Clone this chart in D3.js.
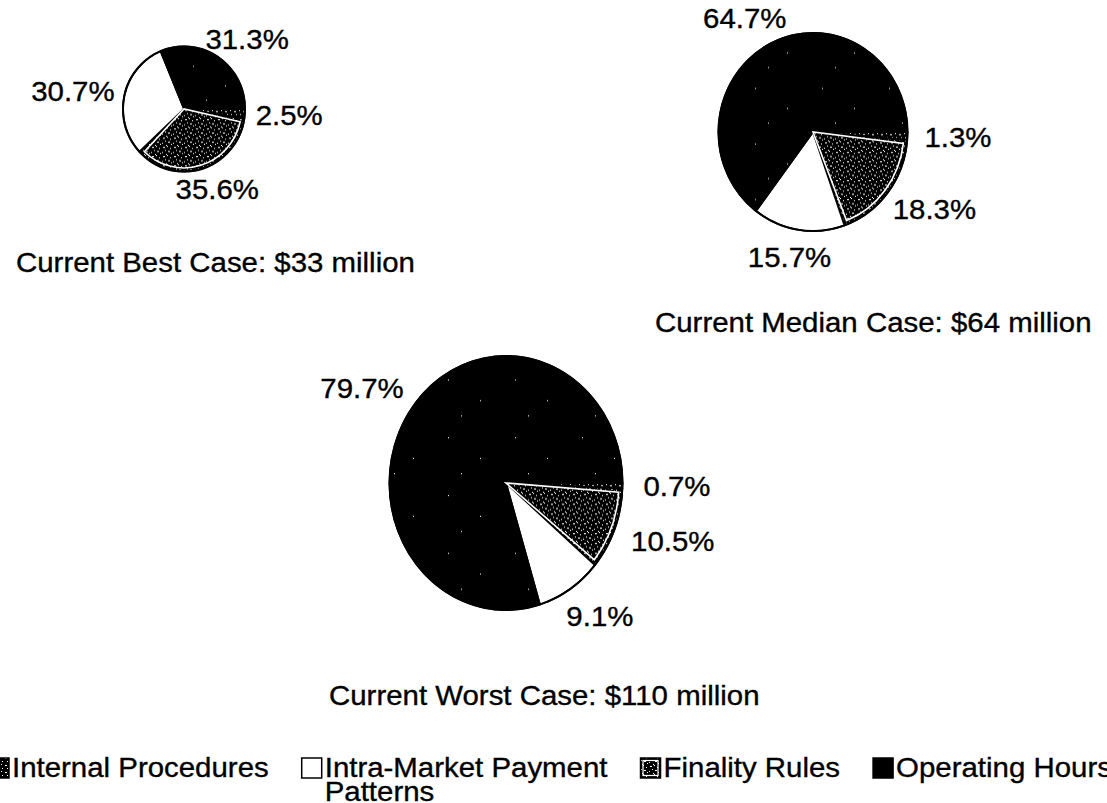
<!DOCTYPE html>
<html>
<head>
<meta charset="utf-8">
<script src="https://cdn.jsdelivr.net/npm/d3@7"></script>
<style>
  body { margin: 0; background: #fff; }
  svg { display: block; }
</style>
</head>
<body>
<svg width="1107" height="803"></svg>
<script>
// legend order
var categories = ["Internal Procedures", "Intra-Market Payment Patterns", "Finality Rules", "Operating Hours"];
var caseNames = ["Current Best Case", "Current Median Case", "Current Worst Case"];
var caseTotals = [33, 64, 110]; // $ million
var bestShares = [2.5, 30.7, 35.6, 31.3];
var medianShares = [1.3, 15.7, 18.3, 64.7];
var worstShares = [0.7, 9.1, 10.5, 79.7];
// slices run clockwise from 3 o'clock in this order
var sliceOrder = [0, 2, 1, 3];

var svg = d3.select("svg");
var font = "'Liberation Sans', Arial, Helvetica, sans-serif";
var fs = 27.5, sx = 1.07;

// where each pie sits
var layout = [
  { cx: 184, cy: 109, rx: 61, ry: 62.5, capX: 16, capY: 272 },
  { cx: 813, cy: 132, rx: 94.5, ry: 99, capX: 655, capY: 332 },
  { cx: 506, cy: 483, rx: 116.5, ry: 127, capX: 329, capY: 705 }
];

var defs = svg.append("defs");
function speckle(id, w, h, dots) {
  var p = defs.append("pattern").attr("id", id)
    .attr("patternUnits", "userSpaceOnUse").attr("width", w).attr("height", h);
  p.append("rect").attr("width", w).attr("height", h).attr("fill", "#000");
  dots.forEach(function (d) {
    p.append("rect").attr("x", d[0]).attr("y", d[1])
      .attr("width", d[2] || 1).attr("height", 1).attr("fill", "#fff");
  });
}
speckle("fin", 11, 9, [[1, 1, 2], [5, 0], [8, 2], [3, 4], [6, 5, 2], [0, 6], [9, 7], [4, 8]]);
speckle("int", 9, 7, [[1, 1], [5, 2, 2], [2, 5], [7, 5]]);
speckle("ops", 67, 53, [[9, 11], [41, 30], [22, 44]]);

var fills = ["url(#int)", "#fff", "url(#fin)", "url(#ops)"];

var pie = d3.pie()
  .sort(null)
  .startAngle(Math.PI / 2)
  .endAngle(Math.PI / 2 + 2 * Math.PI)
  .value(function (d) { return d.v; });

function addText(x, y, str, anchor) {
  return svg.append("text")
    .attr("transform", "translate(" + x + "," + y + ") scale(" + sx + ",1)")
    .attr("text-anchor", anchor || "start")
    .attr("font-family", font)
    .attr("font-size", fs)
    .attr("fill", "#000")
    .attr("stroke", "#000")
    .attr("stroke-width", 0.35)
    .text(str);
}

[bestShares, medianShares, worstShares].forEach(function (shares, i) {
  var L = layout[i];
  var data = sliceOrder.map(function (k) { return { k: k, v: shares[k] }; });
  var arcs = pie(data);

  var g = svg.append("g")
    .attr("transform", "translate(" + L.cx + "," + L.cy + ") scale(1," + (L.ry / L.rx) + ")");

  var arc = d3.arc().innerRadius(0).outerRadius(L.rx);

  g.selectAll("path.slice")
    .data(arcs)
    .enter()
    .append("path")
    .attr("class", "slice")
    .attr("d", arc)
    .attr("fill", function (d) { return fills[d.data.k]; })
    .attr("stroke", "#000")
    .attr("stroke-width", 1.8)
    .attr("stroke-linejoin", "round")
    .attr("vector-effect", "non-scaling-stroke");

  // white inner border of the finality slice
  var inset = d3.arc().innerRadius(0).outerRadius(L.rx - 3.5)
    .padAngle(7 / L.rx).padRadius(L.rx);
  g.selectAll("path.inset")
    .data(arcs.filter(function (d) { return d.data.k === 2; }))
    .enter()
    .append("path")
    .attr("class", "inset")
    .attr("d", inset)
    .attr("fill", "none")
    .attr("stroke", "#fff")
    .attr("stroke-width", 1.6)
    .attr("vector-effect", "non-scaling-stroke");

  // outer ring
  g.append("circle").attr("r", L.rx).attr("fill", "none")
    .attr("stroke", "#000").attr("stroke-width", 2)
    .attr("vector-effect", "non-scaling-stroke");

  // percentage labels outside each slice
  var k = 1.18, h = fs * 0.72;
  arcs.forEach(function (d) {
    var a = (d.startAngle + d.endAngle) / 2;
    var dx = Math.sin(a), dy = -Math.cos(a);
    var t = addText(0, 0, d.data.v.toFixed(1) + "%", "middle");
    var w = t.node().getComputedTextLength() * sx;
    var bx = L.cx + dx * L.rx * k + dx * w / 2;
    var by = L.cy + dy * L.ry * k + dy * h / 2;
    t.attr("transform", "translate(" + bx + "," + (by + h / 2) + ") scale(" + sx + ",1)");
  });

  addText(L.capX, L.capY, caseNames[i] + ": $" + caseTotals[i] + " million");
});

// legend
var legY = 777, box = 20, x = -11;
categories.forEach(function (c, i) {
  svg.append("rect")
    .attr("x", x).attr("y", legY - box + 1)
    .attr("width", box).attr("height", box)
    .attr("fill", fills[i])
    .attr("stroke", "#000").attr("stroke-width", 1.5);
  if (i === 2) {
    svg.append("rect").attr("x", x + 2.5).attr("y", legY - box + 3.5)
      .attr("width", box - 5).attr("height", box - 5)
      .attr("fill", "none").attr("stroke", "#fff").attr("stroke-width", 1.2);
  }
  var tx = x + box + 3;
  var words = c === "Intra-Market Payment Patterns" ? ["Intra-Market Payment", "Patterns"] : [c];
  var t = addText(tx, legY, words[0]);
  var w = t.node().getComputedTextLength() * sx;
  if (words[1]) addText(tx, legY + 24, words[1]);
  x = tx + w + 33;
});
</script>
</body>
</html>
